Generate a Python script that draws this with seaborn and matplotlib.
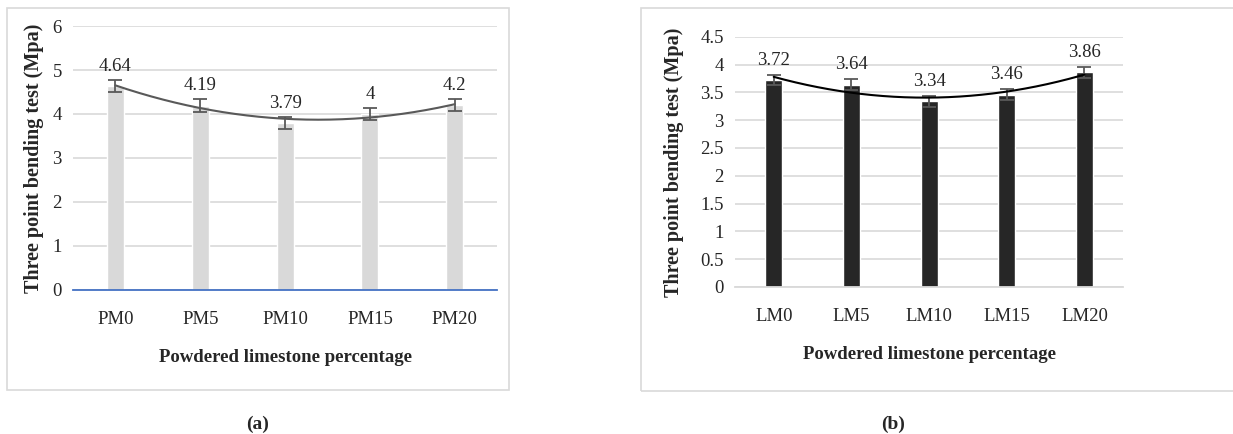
import numpy as np
import pandas as pd
import seaborn as sns
import matplotlib.pyplot as plt
from matplotlib.patches import Rectangle

# panel (a)
pm_labels = ['PM0', 'PM5', 'PM10', 'PM15', 'PM20']
pm_values = [4.64, 4.19, 3.79, 4.0, 4.2]
pm_errors = [0.14, 0.14, 0.14, 0.14, 0.14]

# panel (b)
lm_labels = ['LM0', 'LM5', 'LM10', 'LM15', 'LM20']
lm_values = [3.72, 3.64, 3.34, 3.46, 3.86]
lm_errors = [0.09, 0.10, 0.10, 0.10, 0.10]

sns.set_theme(style='white')
plt.rcParams['font.family'] = ['Liberation Serif', 'DejaVu Serif']

fig = plt.figure(figsize=(12.33, 4.34), dpi=100)

# outer frames like the excel chart areas
fig.patches.append(Rectangle((0.0057, 0.101), 0.407, 0.880, transform=fig.transFigure,
                             fill=False, edgecolor='#d9d9d9', lw=1.2))
fig.patches.append(Rectangle((0.5195, 0.099), 0.60, 0.883, transform=fig.transFigure,
                             fill=False, edgecolor='#d9d9d9', lw=1.2))


def panel(ax, labels, values, errors, bar_color, line_color, zero_color, width, ymax, ystep, ylpad):
    df = pd.DataFrame({'mix': labels, 'value': values})
    sns.barplot(data=df, x='mix', y='value', color=bar_color, width=width,
                saturation=1, ax=ax, zorder=2)
    x = np.arange(len(labels))
    ax.errorbar(x, values, yerr=errors, fmt='none', ecolor='#595959',
                elinewidth=1.3, capsize=5, capthick=1.3, zorder=4)
    # 2nd order polynomial trendline
    coef = np.polyfit(x, values, 2)
    xs = np.linspace(0, len(labels) - 1, 200)
    ax.plot(xs, np.polyval(coef, xs), color=line_color, lw=1.5, zorder=5)
    for xi, v in zip(x, values):
        ax.annotate(f'{v:g}', (xi, v), xytext=(0, 11), textcoords='offset points',
                    ha='center', va='baseline', fontsize=13.5)
    ticks = np.arange(0, ymax + ystep / 2, ystep)
    ax.set_ylim(0, ymax)
    ax.set_xlim(-0.5, len(labels) - 0.5)
    ax.set_yticks(ticks)
    ax.set_yticklabels([f'{t:g}' for t in ticks])
    ax.grid(axis='y', color='#d9d9d9', lw=1.2, zorder=0)
    ax.set_axisbelow(True)
    for s in ['top', 'right', 'left']:
        ax.spines[s].set_visible(False)
    ax.spines['bottom'].set_color(zero_color)
    ax.spines['bottom'].set_linewidth(1.3)
    ax.tick_params(axis='both', length=0, labelsize=13.5, pad=8)
    ax.tick_params(axis='x', pad=15)
    ax.set_xlabel('Powdered limestone percentage', fontweight='bold', fontsize=13.5, labelpad=15)
    ax.set_ylabel('Three point bending test (Mpa)', fontweight='bold', fontsize=14.5, labelpad=ylpad)


ax1 = fig.add_axes([0.0592, 0.332, 0.344, 0.608])
panel(ax1, pm_labels, pm_values, pm_errors, '#d9d9d9', '#595959', '#4472c4', 0.2, 6, 1, 6)

ax2 = fig.add_axes([0.596, 0.339, 0.315, 0.576])
panel(ax2, lm_labels, lm_values, lm_errors, '#262626', '#000000', '#d9d9d9', 0.22, 4.5, 0.5, 12)

fig.text(0.209, 0.012, '(a)', ha='center', fontweight='bold', fontsize=14)
fig.text(0.724, 0.012, '(b)', ha='center', fontweight='bold', fontsize=14)

fig.savefig('out.png', dpi=100, facecolor='white')
